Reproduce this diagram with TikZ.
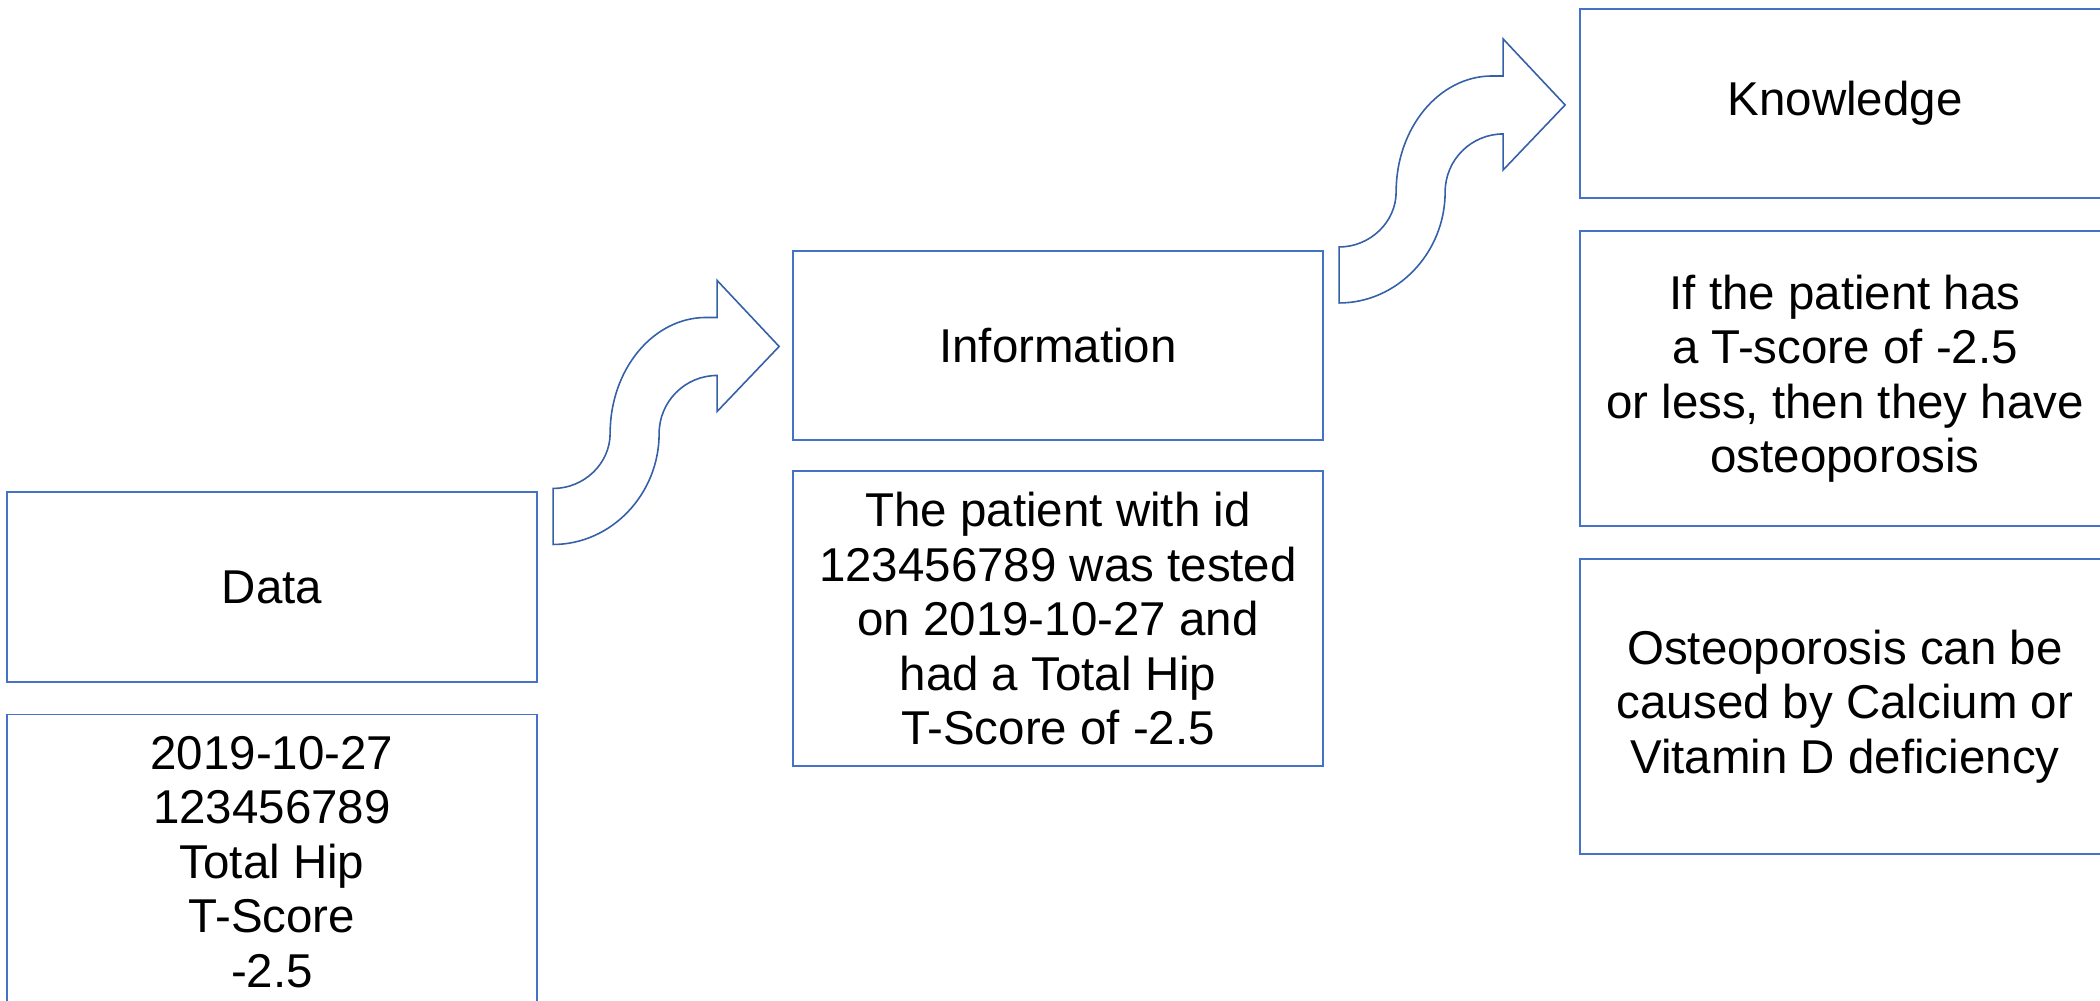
\documentclass[tikz,border=0pt]{standalone}
\usepackage{fontspec}
\setmainfont{Liberation Sans}
\usepackage{tikz}
\usetikzlibrary{positioning}
\definecolor{boxblue}{RGB}{68,114,196}
\definecolor{arrblue}{RGB}{52,96,168}
\tikzset{
  dikwbox/.style = {draw=boxblue,line width=0.55pt,minimum width=5.3cm,
                    inner sep=0pt,align=center,
                    font=\fontsize{13.5}{15.5}\selectfont},
  hdbox/.style   = {dikwbox,minimum height=1.89cm},
  txtbox/.style  = {dikwbox,minimum height=2.95cm},
  bendarr/.style = {draw=arrblue,line width=0.45pt,line join=miter}
}
\newcommand{\sarrow}[1]{%
  \draw[bendarr,shift={(#1)},xshift=0.15cm,yshift=0.03cm]
    (0,0) .. controls (31,0) and (57,-25) .. (57,-55)
    .. controls (57,-119) and (100,-171) .. (153,-171)
    -- (164,-171) -- (164,-208) -- (226,-142) -- (164,-77) -- (164,-113)
    .. controls (132,-113) and (106,-87) .. (106,-55)
    .. controls (106,6) and (58,56) .. (0,56) -- cycle;
}

\begin{document}
\begin{tikzpicture}[x=0.01cm,y=-0.01cm]
  \useasboundingbox (0,0) rectangle (2100,1001);
  \clip (0,0) rectangle (2100,1001);
  \node[hdbox] (data) at (272,587) {Data};
  \node[txtbox,below=0.31cm of data] (datatxt)
    {2019-10-27\\123456789\\Total Hip\\T-Score\\-2.5};
  \node[hdbox] (info) at (1058,345.5) {Information};
  \node[txtbox,below=0.29cm of info] (infotxt)
    {The patient with id\\123456789 was tested\\on 2019-10-27 and\\had a Total Hip\\T-Score of -2.5};
  \node[hdbox] (know) at (1845,103.5) {Knowledge};
  \node[txtbox,below=0.31cm of know] (knowrule)
    {If the patient has\\a T-score of -2.5\\or less, then they have\\osteoporosis};
  \node[txtbox,below=0.31cm of knowrule] (knowcause)
    {Osteoporosis can be\\caused by Calcium or\\Vitamin D deficiency};
  \sarrow{data.north east}
  \sarrow{info.north east}
\end{tikzpicture}
\end{document}
